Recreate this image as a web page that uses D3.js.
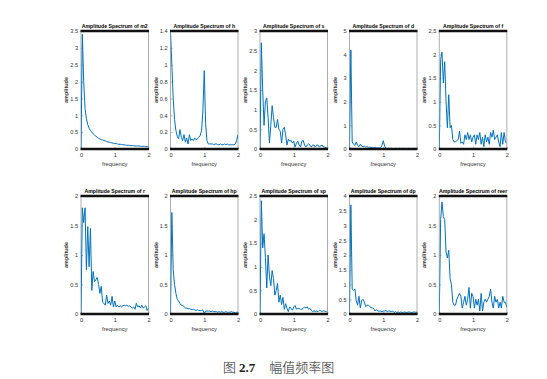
<!DOCTYPE html>
<html><head><meta charset="utf-8">
<script src="https://cdn.jsdelivr.net/npm/d3@7/dist/d3.min.js"></script>
<style>body{margin:0;background:#fff}svg{display:block}</style>
</head><body>
<svg id="c" width="547" height="379"></svg>
<script>
const freq = [0,0.04,0.08,0.12,0.16,0.2,0.24,0.28,0.32,0.36,0.4,0.44,0.48,0.52,0.56,0.6,0.64,0.68,0.72,0.76,0.8,0.84,0.88,0.92,0.96,1.0,1.04,1.08,1.12,1.16,1.2,1.24,1.28,1.32,1.36,1.4,1.44,1.48,1.52,1.56,1.6,1.64,1.68,1.72,1.76,1.8,1.84,1.88,1.92,1.96,2.0];
const xTicks = [0,1,2];
const names = ["m2","h","s","d","f","r","hp","sp","dp","reer"];
const yMax = [3.5,1.4,3,5,2.5,2,2,2.5,4,2];
const yTicks = [
 [0,0.5,1,1.5,2,2.5,3,3.5],
 [0,0.2,0.4,0.6,0.8,1,1.2,1.4],
 [0,0.5,1,1.5,2,2.5,3],
 [0,1,2,3,4,5],
 [0,0.5,1,1.5,2,2.5],
 [0,0.5,1,1.5,2],
 [0,0.5,1,1.5,2],
 [0,0.5,1,1.5,2,2.5],
 [0,0.5,1,1.5,2,2.5,3,3.5,4],
 [0,0.5,1,1.5,2]
];
const m2 = [0,3.4,2.0,1.2,0.9,0.72,0.62,0.55,0.5,0.45,0.41,0.38,0.35,0.32,0.3,0.28,0.27,0.25,0.24,0.22,0.21,0.2,0.19,0.18,0.17,0.16,0.16,0.15,0.14,0.14,0.13,0.13,0.12,0.12,0.11,0.11,0.11,0.1,0.1,0.1,0.09,0.09,0.09,0.09,0.08,0.08,0.08,0.08,0.07,0.07,0.07];
const h = [1.4,1.0,0.6,0.35,0.22,0.15,0.12,0.23,0.14,0.1,0.17,0.08,0.13,0.06,0.17,0.1,0.12,0.1,0.13,0.11,0.12,0.14,0.16,0.22,0.45,0.93,0.3,0.1,0.06,0.06,0.06,0.06,0.05,0.06,0.06,0.05,0.05,0.06,0.05,0.05,0.06,0.05,0.06,0.05,0.05,0.05,0.05,0.05,0.06,0.1,0.17];
const s = [0,2.7,1.5,0.6,1.2,1.3,0.8,0.15,0.6,1.1,0.8,0.55,0.55,0.75,0.5,0.45,0.15,0.5,0.55,0.35,0.1,0.25,0.2,0.22,0.15,0.2,0.05,0.15,0.2,0.1,0.05,0.2,0.22,0.1,0.05,0.1,0.13,0.1,0.05,0.1,0.1,0.05,0.1,0.1,0.05,0.08,0.1,0.05,0.05,0.03,0.03];
const d = [0,4.2,0.3,0.2,0.15,0.3,0.15,0.1,0.2,0.12,0.1,0.12,0.08,0.1,0.07,0.08,0.06,0.07,0.05,0.06,0.05,0.05,0.04,0.05,0.15,0.35,0.12,0.03,0.02,0.03,0.02,0.03,0.02,0.02,0.03,0.02,0.02,0.03,0.02,0.02,0.03,0.02,0.02,0.02,0.03,0.02,0.02,0.02,0.03,0.02,0.02];
const f = [0,1.9,2.05,1.4,1.85,1.0,0.45,1.15,0.45,0.5,0.2,0.15,0.15,0.18,0.2,0.38,0.12,0.15,0.1,0.3,0.2,0.35,0.2,0.3,0.15,0.25,0.3,0.1,0.3,0.2,0.35,0.1,0.25,0.05,0.3,0.15,0.25,0.1,0.35,0.25,0.4,0.2,0.25,0.3,0.15,0.05,0.35,0.1,0.35,0.15,0.12];
const r = [0,1.8,1.55,1.8,0.75,1.48,0.8,1.45,0.4,0.72,0.55,0.58,0.62,0.5,0.35,0.47,0.2,0.18,0.15,0.32,0.18,0.22,0.15,0.3,0.12,0.22,0.12,0.15,0.12,0.14,0.12,0.14,0.15,0.14,0.15,0.13,0.14,0.12,0.1,0.12,0.08,0.18,0.12,0.14,0.1,0.15,0.1,0.12,0.14,0.06,0.1];
const hp = [0,1.72,0.75,0.5,0.35,0.25,0.22,0.18,0.15,0.14,0.13,0.1,0.1,0.09,0.09,0.08,0.07,0.08,0.07,0.06,0.07,0.06,0.06,0.06,0.07,0.01,0.05,0.05,0.05,0.05,0.04,0.05,0.04,0.04,0.04,0.03,0.04,0.03,0.04,0.03,0.03,0.04,0.03,0.03,0.03,0.04,0.03,0.03,0.02,0.03,0.03];
const sp = [0,2.4,1.4,1.7,1.2,0.55,1.25,0.8,0.6,0.92,0.75,0.4,0.5,0.65,0.25,0.4,0.2,0.35,0.1,0.22,0.12,0.05,0.15,0.12,0.08,0.15,0.18,0.1,0.12,0.12,0.1,0.1,0.12,0.15,0.13,0.15,0.1,0.12,0.08,0.05,0.07,0.05,0.06,0.05,0.08,0.07,0.05,0.07,0.06,0.05,0.04];
const dp = [0,3.7,0.85,0.8,0.85,0.45,0.3,0.6,0.2,0.45,0.5,0.4,0.25,0.3,0.3,0.25,0.22,0.2,0.18,0.1,0.15,0.1,0.1,0.1,0.08,0.1,0.1,0.12,0.08,0.1,0.1,0.08,0.1,0.05,0.08,0.05,0.07,0.05,0.07,0.05,0.06,0.07,0.05,0.06,0.07,0.06,0.05,0.06,0.07,0.06,0.06];
const reer = [0,1.6,1.9,1.65,1.6,1.05,0.95,1.08,0.6,0.5,0.2,0.15,0.15,0.25,0.3,0.35,0.3,0.1,0.2,0.3,0.15,0.25,0.45,0.1,0.35,0.3,0.1,0.25,0.15,0.25,0.05,0.35,0.05,0.2,0.25,0.2,0.25,0.3,0.42,0.2,0.1,0.3,0.2,0.25,0.1,0.2,0.1,0.3,0.2,0.2,0.12];
const series = [m2,h,s,d,f,r,hp,sp,dp,reer];

const svg = d3.select("#c");
const lefts = [81,170.5,260,349.5,439.3];
const tops = [31,196];
const W = 67.5, H = 118;
const font = "Liberation Sans, Arial, sans-serif";

series.forEach((vals, i) => {
  const x0 = lefts[i % 5], y0 = tops[Math.floor(i / 5)];
  const x = d3.scaleLinear().domain([0, 2]).range([0, W]);
  const y = d3.scaleLinear().domain([0, yMax[i]]).range([H, 0]);
  const g = svg.append("g").attr("transform", `translate(${x0},${y0})`);
  const cid = "clip" + i;
  g.append("clipPath").attr("id", cid).append("rect").attr("x", 0).attr("y", 0).attr("width", W).attr("height", H);
  const tid = "tclip" + i;
  g.append("clipPath").attr("id", tid).append("rect").attr("x", -6).attr("y", -12).attr("width", W + 10).attr("height", 12);

  const ya = g.append("g").call(d3.axisLeft(y).tickValues(yTicks[i]).tickSize(-2).tickPadding(3).tickFormat(d3.format("~g")));
  ya.select(".domain").remove();
  ya.selectAll("line").attr("stroke", "#666").attr("stroke-width", 0.5);
  ya.selectAll("text").attr("font-family", font).attr("font-size", 5.6).attr("fill", "#333");
  const xa = g.append("g").attr("transform", `translate(0,${H})`).call(d3.axisBottom(x).tickValues(xTicks).tickSize(-2).tickPadding(4).tickFormat(d3.format("~g")));
  xa.select(".domain").remove();
  xa.selectAll("line").attr("stroke", "#666").attr("stroke-width", 0.5);
  xa.selectAll("text").attr("font-family", font).attr("font-size", 5.6).attr("fill", "#333");

  g.append("line").attr("x1", 0).attr("x2", 0).attr("y1", 0).attr("y2", H).attr("stroke", "#999").attr("stroke-width", 0.8);
  g.append("line").attr("x1", W).attr("x2", W).attr("y1", 0).attr("y2", H).attr("stroke", "#999").attr("stroke-width", 0.8);

  g.append("path").datum(vals).attr("clip-path", `url(#${cid})`)
    .attr("fill", "none").attr("stroke", "#0072BD").attr("stroke-width", 1)
    .attr("stroke-linejoin", "round")
    .attr("d", d3.line().x((v, k) => x(freq[k])).y(v => y(v)));

  g.append("line").attr("x1", -0.5).attr("x2", W + 0.5).attr("y1", 0).attr("y2", 0).attr("stroke", "#111").attr("stroke-width", 2.4);
  g.append("line").attr("x1", -0.5).attr("x2", W + 0.5).attr("y1", H).attr("y2", H).attr("stroke", "#111").attr("stroke-width", 2.4);

  g.append("text").attr("clip-path", `url(#${tid})`).attr("x", W / 2).attr("y", -3.5)
    .attr("text-anchor", "middle").attr("font-family", font).attr("font-weight", "bold")
    .attr("font-size", 5.2).attr("fill", "#000").text("Amplitude Spectrum of " + names[i]);
  g.append("text").attr("x", W / 2).attr("y", H + 17).attr("text-anchor", "middle")
    .attr("font-family", font).attr("font-size", 5.8).attr("fill", "#333").text("frequency");
  g.append("text").attr("transform", `translate(-13,${H / 2}) rotate(-90)`).attr("text-anchor", "middle")
    .attr("font-family", font).attr("font-size", 5.5).attr("font-weight", "bold").attr("fill", "#333").text("amplitude");
});

const cap = svg.append("text").attr("x", 223).attr("y", 372).attr("font-size", 13).attr("fill", "#222")
  .attr("font-family", "Noto Sans CJK SC, sans-serif").attr("font-weight", 300);
cap.append("tspan").text("图 ");
cap.append("tspan").attr("font-weight", "bold").attr("font-family", "Liberation Serif, serif").text("2.7");
cap.append("tspan").attr("dx", 14).text("幅值频率图");
</script>
</body></html>
